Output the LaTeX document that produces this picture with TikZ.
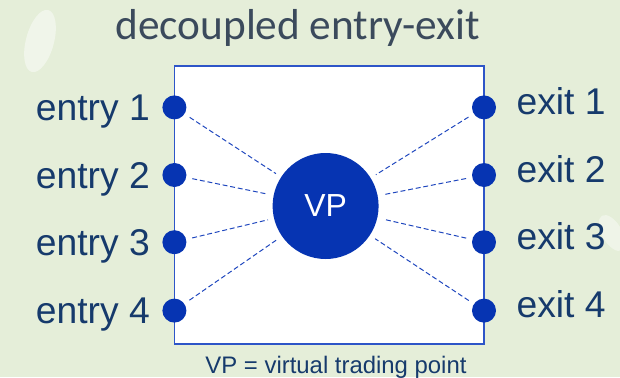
\documentclass[tikz,border=0pt]{standalone}
\usepackage{fontspec}
\setmainfont{Liberation Sans}
\newfontfamily\titlefont{Carlito}
\usepackage{tikz}
\usetikzlibrary{calc}
\definecolor{bggreen}{RGB}{229,238,217}
\definecolor{vpblue}{RGB}{6,52,178}
\definecolor{boxblue}{RGB}{45,85,200}
\definecolor{linkblue}{RGB}{30,70,190}
\definecolor{lblnavy}{RGB}{22,58,108}
\definecolor{titlegray}{RGB}{59,74,92}
\tikzset{
  dot/.style={circle,fill=vpblue,inner sep=0pt,minimum size=0.6cm},
  lbl/.style={text=lblnavy,inner sep=0pt,font=\fontsize{26.5}{32}\selectfont},
  link/.style={draw=linkblue,line width=0.7pt,dash pattern=on 3.5pt off 2pt,shorten <=0.15cm,shorten >=0.15cm}
}

\begin{document}
\begin{tikzpicture}
\useasboundingbox (0,0) rectangle (15.5,9.425);
\fill[bggreen] (0,0) rectangle (15.5,9.425);
% faint leaves in the background
\fill[white,opacity=0.45,rotate around={-15:(1.0,8.4)}] (1.0,8.4) ellipse (0.35 and 0.8);
\fill[white,opacity=0.4,rotate around={30:(15.3,3.6)}] (15.3,3.6) ellipse (0.25 and 0.5);
\node[anchor=base,text=titlegray,font=\titlefont\fontsize{30.8}{36}\selectfont] (title) at (7.44,8.44) {decoupled entry-exit};
\draw[boxblue,line width=1pt,fill=white] (4.36,0.825) rectangle (12.1,7.775);
\node[circle,fill=vpblue,minimum size=2.65cm,text=white,font=\fontsize{22.7}{26}\selectfont] (vp) at (8.14,4.275) {VP};
% entries
\node[dot] (in1) at (4.36,6.74) {};
\node[dot] (in2) at (4.36,5.05) {};
\node[dot] (in3) at (4.36,3.37) {};
\node[dot] (in4) at (4.36,1.66) {};
\node[lbl,anchor=base east] (tin1) at ([shift={(-0.3,-0.325)}]in1.west) {entry 1};
\node[lbl,anchor=base east] (tin2) at ([shift={(-0.3,-0.325)}]in2.west) {entry 2};
\node[lbl,anchor=base east] (tin3) at ([shift={(-0.3,-0.325)}]in3.west) {entry 3};
\node[lbl,anchor=base east] (tin4) at ([shift={(-0.3,-0.325)}]in4.west) {entry 4};
% exits
\node[dot] (out1) at (12.1,6.74) {};
\node[dot] (out2) at (12.1,5.05) {};
\node[dot] (out3) at (12.1,3.37) {};
\node[dot] (out4) at (12.1,1.66) {};
\node[lbl,anchor=base west] (tout1) at ([shift={(0.5,-0.18)}]out1.east) {exit 1};
\node[lbl,anchor=base west] (tout2) at ([shift={(0.5,-0.18)}]out2.east) {exit 2};
\node[lbl,anchor=base west] (tout3) at ([shift={(0.5,-0.18)}]out3.east) {exit 3};
\node[lbl,anchor=base west] (tout4) at ([shift={(0.5,-0.18)}]out4.east) {exit 4};
\draw[link] (in1) -- (vp);
\draw[link] (in2) -- (vp);
\draw[link] (in3) -- (vp);
\draw[link] (in4) -- (vp);
\draw[link] (out1) -- (vp);
\draw[link] (out2) -- (vp);
\draw[link] (out3) -- (vp);
\draw[link] (out4) -- (vp);
\node[anchor=base,text=lblnavy,font=\fontsize{17}{20}\selectfont] (note) at (8.4,0.1) {VP = virtual trading point};
\end{tikzpicture}
\end{document}
